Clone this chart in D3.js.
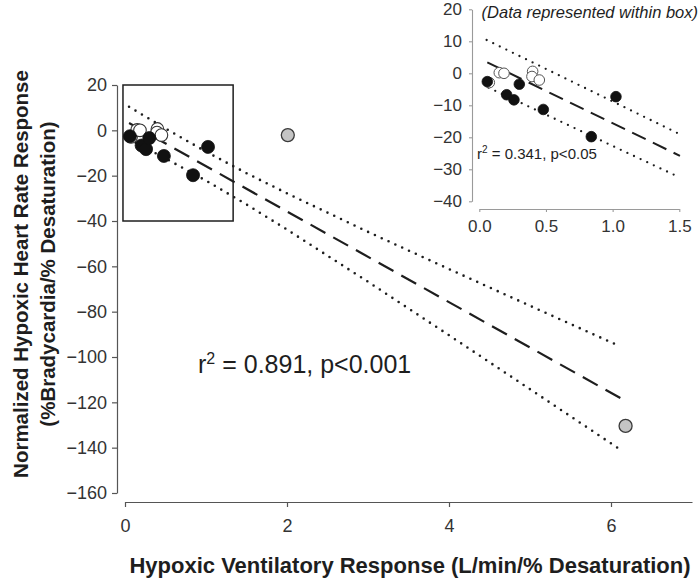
<!DOCTYPE html>
<html>
<head>
<meta charset="utf-8">
<script src="https://cdn.jsdelivr.net/npm/d3@7/dist/d3.min.js"></script>
<style>
  html, body { margin: 0; padding: 0; background: #fff; }
  svg { display: block; }
  text { font-family: "Liberation Sans", Arial, Helvetica, sans-serif; }
</style>
</head>
<body>
<svg id="chart" width="699" height="584"></svg>
<script>
// ---------- data ----------
const blackX = [0.06, 0.205, 0.26, 0.30, 0.48, 0.84, 1.025];
const blackY = [-2.6, -6.7, -8.3, -3.4, -11.3, -19.8, -7.3];
const openX  = [0.075, 0.15, 0.185, 0.40, 0.395, 0.45];
const openY  = [-2.9, 0.2, 0.0, 0.6, -1.0, -2.1];
const grayX  = [2.01, 6.18];
const grayY  = [-2.1, -130.4];

// main regression line and confidence bands
const mainFitX = [0.05, 6.14];
const mainFitY = [3.2, -118.6];
const mainBandX = [0.05, 0.5, 1, 1.5, 2, 3, 4, 5, 6.1];
const mainUpperY = [10.4, 0.8, -9.4, -18.9, -27.8, -44.8, -61.2, -77.4, -95.1];
const mainLowerY = [-4.0, -12.4, -22.2, -32.7, -43.8, -66.8, -90.4, -114.2, -140.5];

// inset regression line and bands
const insetFitX = [0.06, 1.505];
const insetFitY = [3.4, -25.8];
const insetUpperX = [0.055, 1.49];
const insetUpperY = [10.4, -18.75];
const insetLowerX = [0.07, 1.49];
const insetLowerY = [-4.5, -32.3];

// ticks
const mainXTicks = [0, 2, 4, 6];
const mainYTicks = [20, 0, -20, -40, -60, -80, -100, -120, -140, -160];
const insetXTicks = [0.0, 0.5, 1.0, 1.5];
const insetYTicks = [20, 10, 0, -10, -20, -30, -40];

// box region (data coordinates in the main plot)
const boxX = [-0.025, 1.335];
const boxY = [20, -40];

// ---------- drawing ----------
const svg = d3.select("#chart");
const ink = "#1e1e1e";

function zip(xs, ys) { return xs.map((x, i) => [x, ys[i]]); }

// ===== main plot =====
const x = d3.scaleLinear().domain([0, 7]).range([125, 692]);
const y = d3.scaleLinear().domain([-160, 20]).range([493, 85]);

const gx = svg.append("g").attr("transform", "translate(0,502)")
  .call(d3.axisBottom(x).tickValues(mainXTicks).tickFormat(d3.format("d"))
        .tickSize(5).tickSizeOuter(0).tickPadding(12));
const gy = svg.append("g").attr("transform", "translate(117,0)")
  .call(d3.axisLeft(y).tickValues(mainYTicks).tickFormat(d3.format("d"))
        .tickSize(5).tickSizeOuter(0).tickPadding(5));
[gx, gy].forEach(g => {
  g.selectAll("path, line").attr("stroke", "#555").attr("stroke-width", 1.2);
  g.selectAll("text").attr("font-size", 18).attr("fill", "#333")
    .attr("font-family", "'Liberation Sans', Arial, sans-serif");
});

const line = d3.line().x(d => x(d[0])).y(d => y(d[1]));

// bands (dotted)
[zip(mainBandX, mainUpperY), zip(mainBandX, mainLowerY)].forEach(pts => {
  svg.append("path").attr("d", line(pts)).attr("fill", "none")
    .attr("stroke", ink).attr("stroke-width", 2.6)
    .attr("stroke-linecap", "round").attr("stroke-dasharray", "0 7.5");
});
// regression (dashed)
svg.append("path").attr("d", line(zip(mainFitX, mainFitY))).attr("fill", "none")
  .attr("stroke", ink).attr("stroke-width", 2.2).attr("stroke-dasharray", "17 9");

// box
svg.append("rect")
  .attr("x", x(boxX[0])).attr("y", y(boxY[0]))
  .attr("width", x(boxX[1]) - x(boxX[0])).attr("height", y(boxY[1]) - y(boxY[0]))
  .attr("fill", "none").attr("stroke", ink).attr("stroke-width", 1.5);

// points (open behind filled)
svg.append("g").selectAll("circle").data(zip(openX, openY)).join("circle")
  .attr("cx", d => x(d[0])).attr("cy", d => y(d[1])).attr("r", 6.3)
  .attr("fill", "#fff").attr("stroke", "#333").attr("stroke-width", 1.1);
svg.append("g").selectAll("circle").data(zip(blackX, blackY)).join("circle")
  .attr("cx", d => x(d[0])).attr("cy", d => y(d[1])).attr("r", 6.5)
  .attr("fill", "#111").attr("stroke", "#111").attr("stroke-width", 0.8);
svg.append("g").selectAll("circle").data(zip(grayX, grayY)).join("circle")
  .attr("cx", d => x(d[0])).attr("cy", d => y(d[1])).attr("r", 6.5)
  .attr("fill", "#c4c4c4").attr("stroke", "#3a3a3a").attr("stroke-width", 1.3);

// main r² text
const t1 = svg.append("text").attr("x", 198).attr("y", 373)
  .attr("font-size", 25).attr("fill", ink);
t1.append("tspan").text("r");
t1.append("tspan").attr("font-size", 16).attr("dy", -9).text("2");
t1.append("tspan").attr("dy", 9).text(" = 0.891, p<0.001");

// axis titles
svg.append("text").attr("x", 410).attr("y", 573).attr("text-anchor", "middle")
  .attr("font-size", 22).attr("font-weight", "bold").attr("fill", ink)
  .text("Hypoxic Ventilatory Response (L/min/% Desaturation)");
const yt = svg.append("g").attr("transform", "translate(0,274) rotate(-90)");
yt.append("text").attr("x", 0).attr("y", 28).attr("text-anchor", "middle")
  .attr("font-size", 20.5).attr("font-weight", "bold").attr("fill", ink)
  .text("Normalized Hypoxic Heart Rate Response");
yt.append("text").attr("x", 0).attr("y", 55).attr("text-anchor", "middle")
  .attr("font-size", 20.5).attr("font-weight", "bold").attr("fill", ink)
  .text("(%Bradycardia/% Desaturation)");

// ===== inset =====
const ix = d3.scaleLinear().domain([0, 1.5]).range([479.3, 679.3]);
const iy = d3.scaleLinear().domain([-40, 20]).range([201.3, 9.3]);

const igx = svg.append("g").attr("transform", "translate(0,209)")
  .call(d3.axisBottom(ix).tickValues(insetXTicks).tickFormat(d3.format(".1f"))
        .tickSize(3).tickSizeOuter(0).tickPadding(8));
const igy = svg.append("g").attr("transform", "translate(472,0)")
  .call(d3.axisLeft(iy).tickValues(insetYTicks).tickFormat(d3.format("d"))
        .tickSize(3).tickSizeOuter(0).tickPadding(7));
[igx, igy].forEach(g => {
  g.selectAll("path, line").attr("stroke", "#9a9a9a").attr("stroke-width", 1.1);
  g.selectAll("text").attr("font-size", 17).attr("fill", "#333")
    .attr("font-family", "'Liberation Sans', Arial, sans-serif");
});

const iline = d3.line().x(d => ix(d[0])).y(d => iy(d[1]));
[zip(insetUpperX, insetUpperY), zip(insetLowerX, insetLowerY)].forEach(pts => {
  svg.append("path").attr("d", iline(pts)).attr("fill", "none")
    .attr("stroke", ink).attr("stroke-width", 2.3)
    .attr("stroke-linecap", "round").attr("stroke-dasharray", "0 7.3");
});
svg.append("path").attr("d", iline(zip(insetFitX, insetFitY))).attr("fill", "none")
  .attr("stroke", ink).attr("stroke-width", 2).attr("stroke-dasharray", "15 8");

svg.append("g").selectAll("circle").data(zip(openX, openY).slice(0, 1)).join("circle")
  .attr("cx", d => ix(d[0])).attr("cy", d => iy(d[1])).attr("r", 5.3)
  .attr("fill", "#fff").attr("stroke", "#555").attr("stroke-width", 1);
svg.append("g").selectAll("circle").data(zip(blackX, blackY)).join("circle")
  .attr("cx", d => ix(d[0])).attr("cy", d => iy(d[1])).attr("r", 5.3)
  .attr("fill", "#111").attr("stroke", "#111").attr("stroke-width", 0.8);
svg.append("g").selectAll("circle").data(zip(openX, openY).slice(1)).join("circle")
  .attr("cx", d => ix(d[0])).attr("cy", d => iy(d[1])).attr("r", 5.3)
  .attr("fill", "#fff").attr("stroke", "#555").attr("stroke-width", 1);

const t2 = svg.append("text").attr("x", 477).attr("y", 159)
  .attr("font-size", 15).attr("fill", ink);
t2.append("tspan").text("r");
t2.append("tspan").attr("font-size", 10).attr("dy", -6).text("2");
t2.append("tspan").attr("dy", 6).text(" = 0.341, p<0.05");

svg.append("text").attr("x", 698).attr("y", 18).attr("text-anchor", "end")
  .attr("font-size", 16.5).attr("font-style", "italic").attr("fill", ink)
  .text("(Data represented within box)");
</script>
</body>
</html>
